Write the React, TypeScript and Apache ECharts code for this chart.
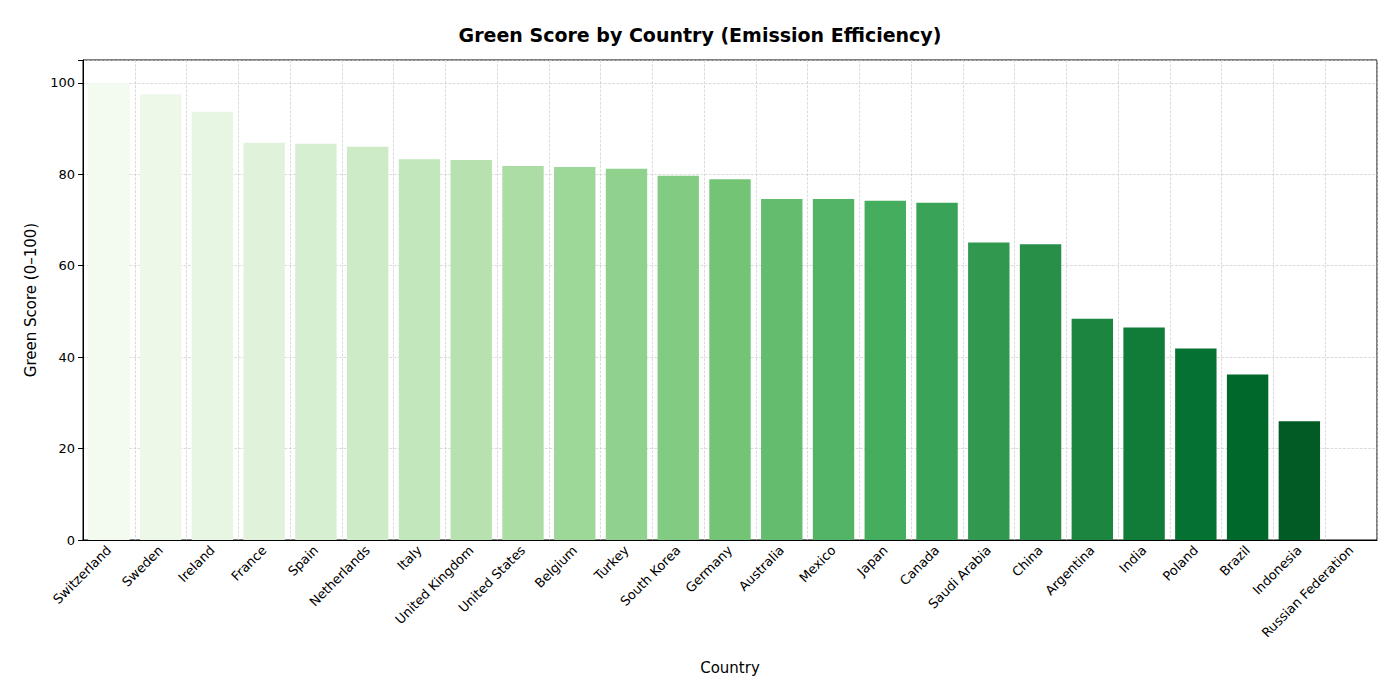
import React, { useEffect, useRef } from 'react';
import * as echarts from 'echarts';

const countries = ['Switzerland', 'Sweden', 'Ireland', 'France', 'Spain', 'Netherlands', 'Italy', 'United Kingdom', 'United States', 'Belgium', 'Turkey', 'South Korea', 'Germany', 'Australia', 'Mexico', 'Japan', 'Canada', 'Saudi Arabia', 'China', 'Argentina', 'India', 'Poland', 'Brazil', 'Indonesia', 'Russian Federation'];
const scores = [100, 97.5, 93.7, 86.9, 86.7, 86.0, 83.3, 83.1, 81.8, 81.6, 81.2, 79.7, 78.9, 74.6, 74.6, 74.2, 73.8, 65.1, 64.7, 48.4, 46.5, 41.9, 36.2, 26.0, 0];
const yTicks = [0, 20, 40, 60, 80, 100];

const greens = ['#f7fcf5', '#e5f5e0', '#c7e9c0', '#a1d99b', '#74c476', '#41ab5d', '#238b45', '#006d2c', '#00441b'];

function hex(c: string) { return [1, 3, 5].map(i => parseInt(c.slice(i, i + 2), 16)); }
function sample(t: number) {
  const p = t * (greens.length - 1);
  const i = Math.min(Math.floor(p), greens.length - 2);
  const f = p - i;
  const a = hex(greens[i]), b = hex(greens[i + 1]);
  return 'rgb(' + a.map((v, k) => Math.round(v + (b[k] - v) * f)).join(',') + ')';
}

const App: React.FC = () => {
  const ref = useRef<HTMLDivElement>(null);
  useEffect(() => {
    if (!ref.current) return;
    const chart = echarts.init(ref.current, null, { renderer: 'svg' });
    const n = countries.length;
    chart.setOption({
      animation: false,
      textStyle: { fontFamily: 'DejaVu Sans' },
      title: {
        text: 'Green Score by Country (Emission Efficiency)', left: 'center', top: 12,
        textStyle: { fontSize: 19, fontWeight: 'bold', color: '#000' },
      },
      grid: { left: 75, right: 15, top: 52, bottom: 152, show: true, borderColor: '#000', borderWidth: 1 },
      xAxis: {
        type: 'category', data: countries,
        name: 'Country', nameLocation: 'middle', nameGap: 120,
        nameTextStyle: { fontSize: 15, color: '#000' },
        axisLine: { lineStyle: { color: '#000' } },
        axisTick: { alignWithLabel: true, lineStyle: { color: '#000' } },
        axisLabel: { rotate: 45, interval: 0, fontSize: 13, color: '#000', margin: 8 },
        splitLine: { show: true, lineStyle: { type: 'dashed', color: '#ccc', width: 0.7 } },
      },
      yAxis: {
        type: 'value', min: 0, max: 105, interval: 20,
        name: 'Green Score (0–100)', nameLocation: 'middle', nameGap: 45,
        nameTextStyle: { fontSize: 15, color: '#000' },
        axisLine: { show: true, lineStyle: { color: '#000' } },
        axisTick: { show: true, lineStyle: { color: '#000' } },
        axisLabel: { fontSize: 13, color: '#000', formatter: (v: number) => yTicks.includes(v) ? String(v) : '' },
        splitLine: { show: true, lineStyle: { type: 'dashed', color: '#ccc', width: 0.7 } },
      },
      series: [{
        type: 'bar', barWidth: '80%',
        data: scores.map((v, i) => ({ value: v, itemStyle: { color: sample(0.03 + 0.94 * i / (n - 1)) } })),
      }],
    });
    return () => chart.dispose();
  }, []);
  return <div ref={ref} style={{ width: 1384, height: 684 }} />;
};

export default App;
